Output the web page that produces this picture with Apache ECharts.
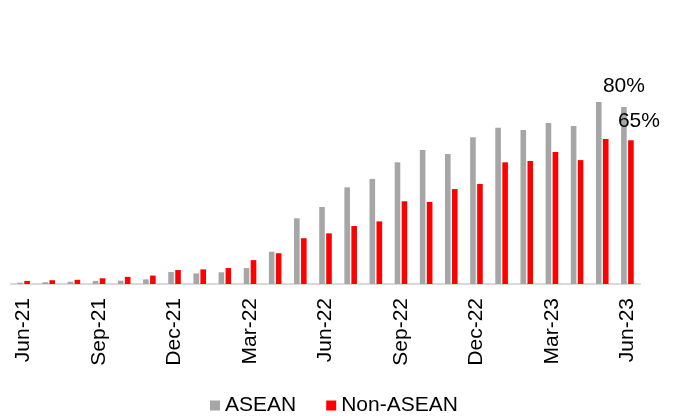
<!DOCTYPE html>
<html>
<head>
<meta charset="utf-8">
<script src="https://cdn.jsdelivr.net/npm/echarts@6/dist/echarts.min.js"></script>
<style>html,body{margin:0;padding:0;background:#fff}#c{width:678px;height:416px}</style>
</head>
<body>
<div id="c"></div>
<script>
var categories = ['Jun-21','Jul-21','Aug-21','Sep-21','Oct-21','Nov-21','Dec-21','Jan-22','Feb-22','Mar-22','Apr-22','May-22','Jun-22','Jul-22','Aug-22','Sep-22','Oct-22','Nov-22','Dec-22','Jan-23','Feb-23','Mar-23','Apr-23','May-23','Jun-23'];
var asean = [0.6,0.8,1.0,1.4,1.5,2.1,5.4,4.8,5.3,7.2,14.6,29.7,34.8,43.7,47.5,55.0,60.6,58.8,66.3,70.6,69.6,72.8,71.4,82.3,80];
var nonAsean = [1.4,1.7,1.9,2.6,3.2,3.8,6.3,6.6,7.2,10.8,13.9,20.7,22.9,26.2,28.3,37.4,37.1,42.9,45.2,55.0,55.6,59.7,56.0,65.5,65];
var seriesNames = ['ASEAN','Non-ASEAN'];

var FONT = '"Liberation Sans", Arial, sans-serif';
function withLastLabel(arr, distance, offset) {
  return arr.map(function (v, i) {
    if (i === arr.length - 1) {
      return {value: v, label: {show: true, position: 'top', distance: distance, offset: offset,
        formatter: '{c}%', color: '#000', fontSize: 21, fontFamily: FONT}};
    }
    return v;
  });
}

var chart = echarts.init(document.getElementById('c'));
chart.setOption({
  animation: false,
  textStyle: {fontFamily: FONT},
  grid: {left: 11, right: 38, top: 62.75, bottom: 132, containLabel: false},
  legend: {
    data: seriesNames,
    left: 205, top: 390,
    itemWidth: 10, itemHeight: 10, itemGap: 30,
    icon: 'rect',
    textStyle: {fontSize: 21, color: '#000', fontFamily: FONT}
  },
  xAxis: {
    type: 'category',
    data: categories,
    axisTick: {show: false},
    axisLine: {lineStyle: {color: '#D9D9D9', width: 2}},
    axisLabel: {interval: 2, rotate: 90, margin: 14, fontSize: 21, color: '#000', fontFamily: FONT}
  },
  yAxis: {
    type: 'value', min: 0, max: 100,
    show: false,
    splitLine: {show: false}
  },
  series: [
    {name: seriesNames[0], type: 'bar', data: withLastLabel(asean, 10, [0, 0]),
     barWidth: 5.6, barGap: '25%', itemStyle: {color: '#A6A6A6'}},
    {name: seriesNames[1], type: 'bar', data: withLastLabel(nonAsean, 8, [8, 0]),
     barWidth: 5.6, itemStyle: {color: '#FF0000'}}
  ]
});
</script>
</body>
</html>
